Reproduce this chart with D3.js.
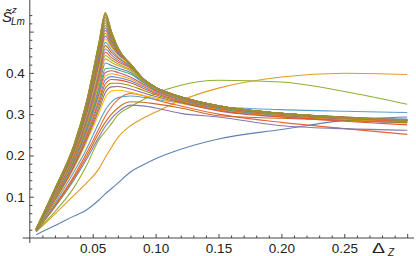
<!DOCTYPE html>
<html>
<head>
<meta charset="utf-8">
<script src="https://cdn.jsdelivr.net/npm/d3@7"></script>
<style>
  body { margin: 0; background: #fff; }
  svg text { font-family: "Liberation Sans", Arial, sans-serif; }
</style>
</head>
<body>
<div id="chart"></div>
<script>
// Delta_Z sample points shared by every curve
const dz = [0.005, 0.02, 0.035, 0.045, 0.055, 0.06, 0.065, 0.07, 0.08, 0.09, 0.1, 0.12, 0.15, 0.2, 0.25, 0.3];

// the few curves that leave the bundle
const sBlue   = [0.008, 0.030, 0.053, 0.068, 0.092, 0.107, 0.120, 0.133, 0.160, 0.177, 0.192, 0.215, 0.240, 0.263, 0.285, 0.293];
const sOrange = [0.015, 0.058, 0.103, 0.133, 0.168, 0.195, 0.220, 0.243, 0.272, 0.290, 0.305, 0.333, 0.363, 0.390, 0.399, 0.396];
const sGreen  = [0.016, 0.064, 0.122, 0.175, 0.238, 0.258, 0.277, 0.298, 0.318, 0.335, 0.350, 0.370, 0.382, 0.378, 0.355, 0.324];
const sRed    = [0.017, 0.080, 0.150, 0.205, 0.265, 0.295, 0.318, 0.335, 0.350, 0.345, 0.335, 0.320, 0.300, 0.280, 0.265, 0.251];
const sPurple = [0.016, 0.075, 0.140, 0.190, 0.245, 0.270, 0.290, 0.305, 0.322, 0.320, 0.315, 0.302, 0.293, 0.272, 0.265, 0.261];
const sBrown  = [0.016, 0.078, 0.145, 0.197, 0.255, 0.280, 0.300, 0.315, 0.330, 0.329, 0.325, 0.315, 0.296, 0.290, 0.285, 0.280];

// the bundle, lowest peak first
const bundle = [
  [0.018, 0.085, 0.160, 0.215, 0.280, 0.310, 0.330, 0.340, 0.344, 0.341, 0.336, 0.327, 0.318, 0.311, 0.307, 0.304],
  [0.018, 0.090, 0.169, 0.232, 0.302, 0.340, 0.356, 0.358, 0.353, 0.346, 0.339, 0.326, 0.309, 0.294, 0.286, 0.281],
  [0.018, 0.092, 0.172, 0.237, 0.311, 0.352, 0.366, 0.367, 0.361, 0.352, 0.343, 0.328, 0.308, 0.293, 0.285, 0.279],
  [0.019, 0.093, 0.175, 0.242, 0.319, 0.363, 0.375, 0.375, 0.369, 0.358, 0.347, 0.330, 0.310, 0.295, 0.286, 0.280],
  [0.019, 0.095, 0.177, 0.246, 0.328, 0.373, 0.384, 0.383, 0.376, 0.363, 0.350, 0.332, 0.310, 0.294, 0.283, 0.274],
  [0.019, 0.096, 0.180, 0.251, 0.335, 0.383, 0.391, 0.389, 0.381, 0.367, 0.353, 0.334, 0.314, 0.299, 0.292, 0.288],
  [0.019, 0.097, 0.182, 0.255, 0.343, 0.392, 0.398, 0.395, 0.385, 0.370, 0.355, 0.334, 0.312, 0.296, 0.288, 0.283],
  [0.019, 0.098, 0.184, 0.259, 0.350, 0.401, 0.405, 0.401, 0.390, 0.373, 0.357, 0.335, 0.313, 0.297, 0.289, 0.284],
  [0.019, 0.100, 0.187, 0.263, 0.357, 0.410, 0.412, 0.407, 0.397, 0.377, 0.359, 0.336, 0.314, 0.298, 0.290, 0.285],
  [0.020, 0.101, 0.189, 0.267, 0.365, 0.424, 0.418, 0.412, 0.401, 0.379, 0.360, 0.337, 0.315, 0.299, 0.291, 0.285],
  [0.020, 0.102, 0.192, 0.272, 0.372, 0.434, 0.425, 0.418, 0.405, 0.381, 0.361, 0.338, 0.316, 0.299, 0.291, 0.285],
  [0.020, 0.103, 0.194, 0.276, 0.379, 0.442, 0.431, 0.422, 0.408, 0.382, 0.362, 0.339, 0.316, 0.300, 0.291, 0.284],
  [0.020, 0.105, 0.196, 0.280, 0.387, 0.450, 0.437, 0.427, 0.412, 0.384, 0.363, 0.340, 0.317, 0.300, 0.290, 0.282],
  [0.020, 0.106, 0.199, 0.284, 0.394, 0.458, 0.443, 0.431, 0.414, 0.385, 0.364, 0.340, 0.318, 0.301, 0.292, 0.286],
  [0.020, 0.107, 0.201, 0.288, 0.401, 0.466, 0.449, 0.436, 0.416, 0.386, 0.364, 0.341, 0.318, 0.301, 0.292, 0.286],
  [0.021, 0.109, 0.204, 0.292, 0.409, 0.474, 0.455, 0.439, 0.418, 0.386, 0.365, 0.342, 0.319, 0.302, 0.293, 0.287],
  [0.021, 0.110, 0.206, 0.297, 0.416, 0.482, 0.461, 0.443, 0.420, 0.386, 0.365, 0.342, 0.319, 0.302, 0.293, 0.286],
  [0.021, 0.111, 0.208, 0.300, 0.422, 0.489, 0.465, 0.446, 0.421, 0.386, 0.365, 0.342, 0.319, 0.302, 0.293, 0.286],
  [0.021, 0.112, 0.210, 0.304, 0.429, 0.496, 0.470, 0.449, 0.422, 0.386, 0.365, 0.342, 0.319, 0.302, 0.292, 0.285],
  [0.021, 0.113, 0.212, 0.308, 0.435, 0.503, 0.475, 0.451, 0.422, 0.386, 0.365, 0.342, 0.320, 0.302, 0.292, 0.285],
  [0.021, 0.114, 0.214, 0.311, 0.441, 0.509, 0.478, 0.453, 0.422, 0.386, 0.365, 0.342, 0.320, 0.302, 0.292, 0.285],
  [0.021, 0.115, 0.216, 0.314, 0.447, 0.515, 0.482, 0.455, 0.422, 0.386, 0.365, 0.342, 0.320, 0.302, 0.292, 0.285],
  [0.022, 0.116, 0.218, 0.317, 0.452, 0.521, 0.486, 0.457, 0.422, 0.386, 0.365, 0.342, 0.320, 0.302, 0.292, 0.285],
  [0.022, 0.117, 0.219, 0.320, 0.457, 0.526, 0.489, 0.458, 0.421, 0.386, 0.365, 0.342, 0.320, 0.302, 0.292, 0.285],
  [0.022, 0.118, 0.220, 0.322, 0.461, 0.531, 0.492, 0.459, 0.421, 0.386, 0.365, 0.342, 0.320, 0.302, 0.292, 0.285],
  [0.022, 0.119, 0.222, 0.324, 0.465, 0.535, 0.494, 0.460, 0.420, 0.386, 0.365, 0.342, 0.320, 0.302, 0.292, 0.285],
  [0.022, 0.119, 0.223, 0.326, 0.469, 0.539, 0.496, 0.461, 0.419, 0.385, 0.365, 0.342, 0.320, 0.302, 0.292, 0.285],
  [0.022, 0.120, 0.224, 0.328, 0.471, 0.542, 0.498, 0.461, 0.419, 0.385, 0.365, 0.342, 0.320, 0.302, 0.292, 0.285],
  [0.022, 0.120, 0.224, 0.329, 0.473, 0.544, 0.499, 0.461, 0.418, 0.385, 0.365, 0.342, 0.320, 0.302, 0.292, 0.285],
  [0.022, 0.120, 0.225, 0.330, 0.475, 0.546, 0.500, 0.462, 0.418, 0.385, 0.365, 0.342, 0.320, 0.302, 0.292, 0.285]
];

// Mathematica-like default palette, then muddy tones for the dense top
const special = [sBlue, sOrange, sGreen, sRed, sPurple, sBrown];
const specialColors = ["#5E81B5", "#E19C24", "#8FB032", "#EB6235", "#8778B3", "#C56E1A"];
const bundleColors = ["#5D9EC7", "#FFBF00", "#A5609D", "#929600", "#E95536", "#6685D9", "#F89F13", "#BC5B80", "#47B66D",
  "#5E81B5", "#E19C24", "#8FB032", "#EB6235", "#8778B3", "#C56E1A", "#5D9EC7", "#FFBF00", "#A5609D", "#929600", "#E95536",
  "#6685D9", "#A3873F", "#9C8A3C", "#A58542", "#9A8C38", "#A48641", "#9E8A3D", "#A2883F", "#9C8C36", "#999232"];

const xMajor = [0.05, 0.10, 0.15, 0.20, 0.25, 0.30];
const xLabels = ["0.05", "0.10", "0.15", "0.20", "0.25", ""];
const yMajor = [0.1, 0.2, 0.3, 0.4, 0.5];
const yLabels = ["0.1", "0.2", "0.3", "0.4", ""];

const W = 416, H = 256;
const svg = d3.select("#chart").append("svg").attr("width", W).attr("height", H);

const x = d3.scaleLinear().domain([0, 0.3]).range([29.8, 407.2]);
const y = d3.scaleLinear().domain([0, 0.5]).range([238, 31.6]);

const line = d3.line()
  .x((d, i) => x(dz[i]))
  .y(d => y(d))
  .curve(d3.curveMonotoneX);

// curves
const g = svg.append("g");
special.forEach((s, i) => {
  g.append("path").attr("d", line(s)).attr("fill", "none")
    .attr("stroke", specialColors[i]).attr("stroke-width", 1.1);
});
bundle.forEach((s, i) => {
  g.append("path").attr("d", line(s)).attr("fill", "none")
    .attr("stroke", bundleColors[i]).attr("stroke-width", 1.1);
});

// axes
const axisColor = "#444";
const minorX = d3.range(1, 31).map(i => i / 100).filter(v => !xMajor.some(m => Math.abs(m - v) < 1e-9));
const minorY = d3.range(1, 28).map(i => i * 0.02).filter(v => !yMajor.some(m => Math.abs(m - v) < 1e-9) && v < 0.56);

svg.append("g").attr("transform", "translate(0,238)")
  .call(d3.axisBottom(x).tickValues(xMajor).tickFormat((d, i) => xLabels[i])
    .tickSizeInner(-4).tickSizeOuter(0).tickPadding(5));
svg.append("g").attr("transform", "translate(0,238)")
  .call(d3.axisBottom(x).tickValues(minorX).tickFormat("").tickSizeInner(-2.5).tickSizeOuter(0));

svg.append("g").attr("transform", "translate(29.8,0)")
  .call(d3.axisLeft(y).tickValues(yMajor).tickFormat((d, i) => yLabels[i])
    .tickSizeInner(-4).tickSizeOuter(0).tickPadding(5));
svg.append("g").attr("transform", "translate(29.8,0)")
  .call(d3.axisLeft(y).tickValues(minorY).tickFormat("").tickSizeInner(-2.5).tickSizeOuter(0));

svg.selectAll(".domain").remove();
svg.selectAll(".tick line").attr("stroke", axisColor);
svg.selectAll(".tick text").attr("fill", "#222").style("font-size", "13.5px");

svg.append("line").attr("x1", 22.7).attr("x2", 414).attr("y1", 238).attr("y2", 238)
  .attr("stroke", axisColor).attr("stroke-width", 1);
svg.append("line").attr("x1", 29.8).attr("x2", 29.8).attr("y1", 243).attr("y2", 0)
  .attr("stroke", axisColor).attr("stroke-width", 1);

// axis labels
const serif = "'Liberation Serif', 'Times New Roman', serif";
svg.append("text").attr("x", 2).attr("y", 22).attr("font-family", serif)
  .attr("font-style", "italic").attr("font-size", 15).attr("fill", "#222").text("S\u0303");
svg.append("text").attr("x", 12).attr("y", 12.5).attr("font-family", serif)
  .attr("font-style", "italic").attr("font-size", 9.5).attr("fill", "#222").text("z");
svg.append("text").attr("x", 11).attr("y", 25).attr("font-family", serif)
  .attr("font-style", "italic").attr("font-size", 10).attr("fill", "#222").text("Lm");

svg.append("text").attr("transform", "translate(372,253) scale(1.3,1)")
  .style("font-size", "15px").attr("fill", "#222").text("Δ");
svg.append("text").attr("x", 388).attr("y", 255.5).attr("font-family", serif)
  .attr("font-style", "italic").attr("font-size", 10).attr("fill", "#222").text("Z");
</script>
</body>
</html>
